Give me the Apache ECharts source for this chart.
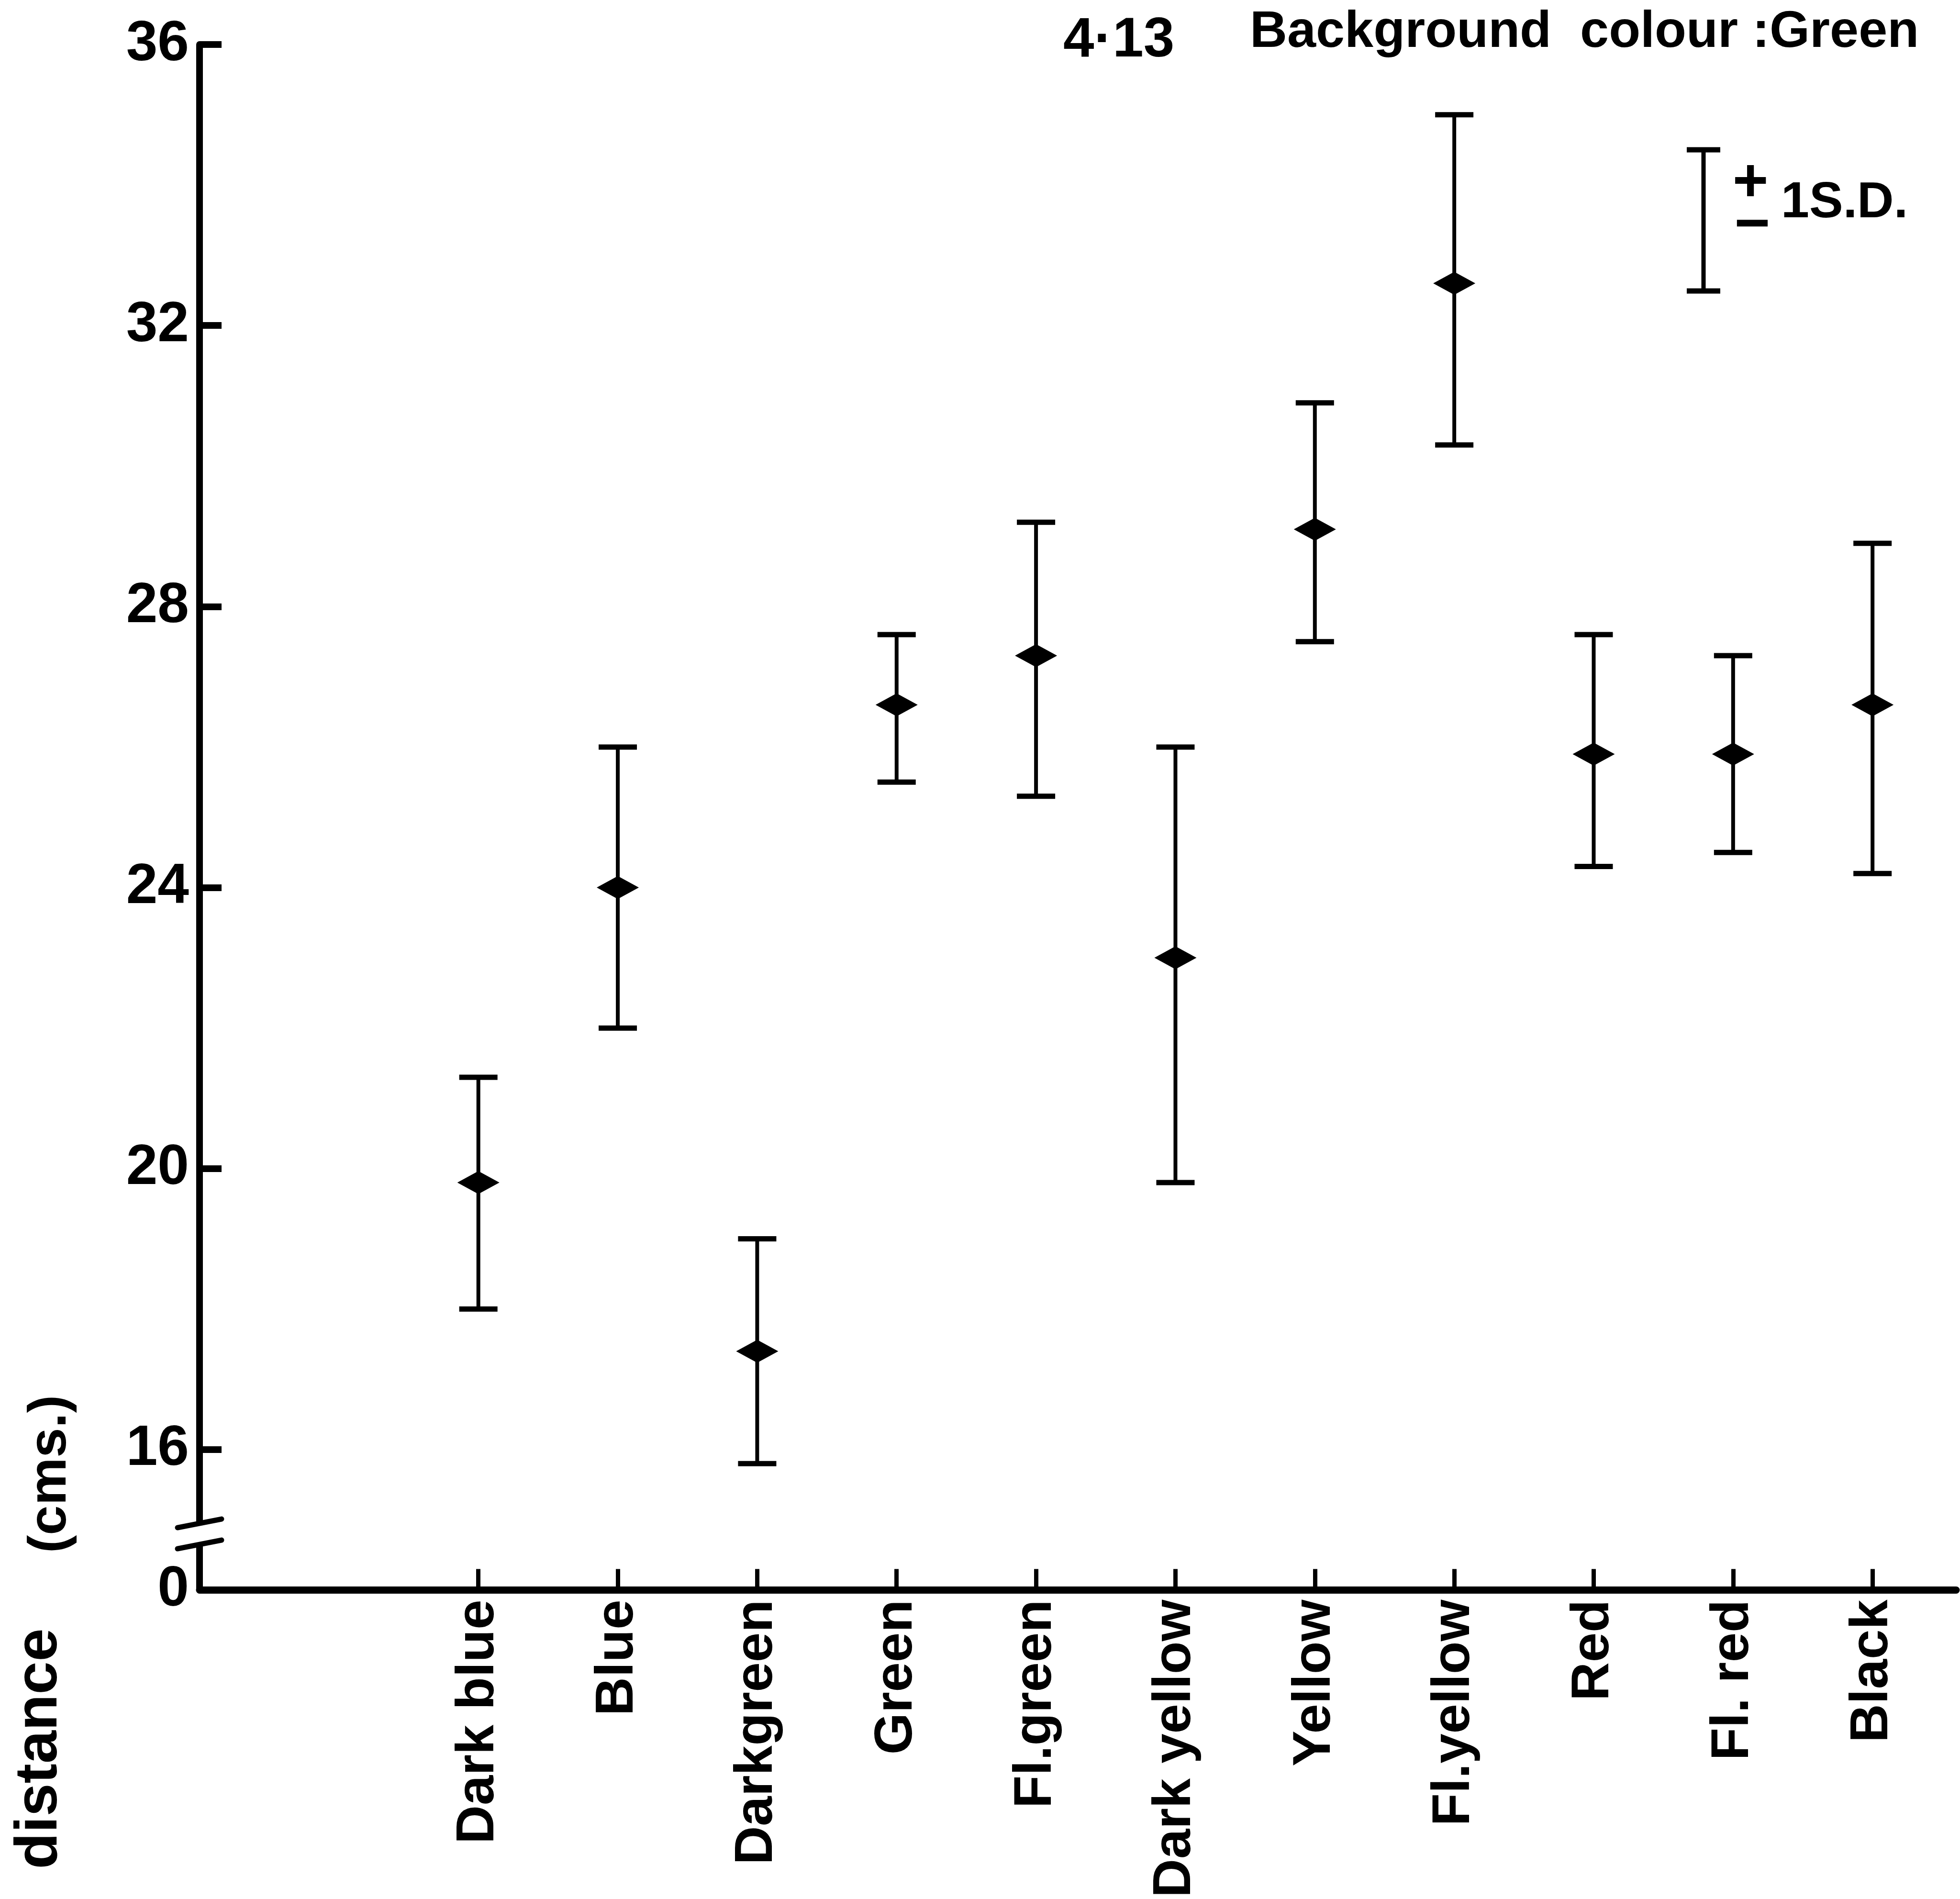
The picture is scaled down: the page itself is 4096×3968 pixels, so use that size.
<!DOCTYPE html>
<html><head><meta charset="utf-8">
<script src="https://cdn.jsdelivr.net/npm/echarts@6/dist/echarts.min.js"></script>
<style>html,body{margin:0;padding:0;background:#fff}#c{width:4096px;height:3968px}</style>
</head><body><div id="c"></div>
<script>
const categories = ['Dark blue','Blue','Darkgreen','Green','Fl.green','Dark yellow','Yellow','Fl.yellow','Red','Fl. red','Black'];
const means = [19.8, 24.0, 17.4, 26.6, 27.3, 23.0, 29.1, 32.6, 25.9, 25.9, 26.6];
const upper = [21.3, 26.0, 19.0, 27.6, 29.2, 26.0, 30.9, 35.0, 27.6, 27.3, 28.9];
const lower = [18.0, 22.0, 15.8, 25.5, 25.3, 19.8, 27.5, 30.3, 24.3, 24.5, 24.2];
const yTicks = [16, 20, 24, 28, 32, 36];
const yBase = 14;          // plotted position of the "0" label (broken axis)
const breakRange = [14.65, 14.95];

const SANS = '"Liberation Sans", Arial, Helvetica, sans-serif';
const NARROW = '"Liberation Sans Narrow", "Arial Narrow", "Liberation Sans", Arial, sans-serif';

const chart = echarts.init(document.getElementById('c'), null, {renderer: 'canvas'});

const option = {
  backgroundColor: '#ffffff',
  animation: false,
  grid: {left: 417, right: 8, top: 93, bottom: 636, containLabel: false},
  xAxis: {
    type: 'value', min: -2, max: 10.6,
    splitLine: {show: false},
    axisLine: {onZero: false, lineStyle: {color: '#000', width: 15}},
    axisTick: {show: true, inside: true, length: 44, customValues: categories.map((c, i) => i),
               lineStyle: {color: '#000', width: 9}},
    axisLabel: {
      customValues: categories.map((c, i) => i),
      formatter: v => categories[Math.round(v)] || '',
      rotate: 90, margin: 20, color: '#000',
      fontFamily: NARROW, fontWeight: 'bold', fontSize: 112
    }
  },
  yAxis: {
    type: 'value', min: yBase, max: 36,
    splitLine: {show: false},
    axisLine: {onZero: false, lineStyle: {color: '#000', width: 14}},
    axisTick: {show: true, inside: true, length: 46, customValues: yTicks,
               lineStyle: {color: '#000', width: 14}},
    axisLabel: {
      customValues: [yBase].concat(yTicks),
      formatter: v => (v === yBase ? '0' : String(v)),
      margin: 22, color: '#000',
      fontFamily: SANS, fontWeight: 'bold', fontSize: 118
    }
  },
  series: [
    {
      type: 'custom',
      data: categories.map((c, i) => [i, lower[i], upper[i]]),
      encode: {x: 0, y: [1, 2]},
      renderItem: (params, api) => {
        const x = api.value(0);
        const top = api.coord([x, api.value(2)]);
        const bot = api.coord([x, api.value(1)]);
        const hw = 40;
        const st = {stroke: '#000', lineWidth: 8};
        const cap = {stroke: '#000', lineWidth: 11};
        return {type: 'group', children: [
          {type: 'line', shape: {x1: top[0], y1: top[1], x2: bot[0], y2: bot[1]}, style: st},
          {type: 'line', shape: {x1: top[0] - hw, y1: top[1], x2: top[0] + hw, y2: top[1]}, style: cap},
          {type: 'line', shape: {x1: bot[0] - hw, y1: bot[1], x2: bot[0] + hw, y2: bot[1]}, style: cap}
        ]};
      },
      z: 2
    },
    {
      type: 'scatter',
      data: means.map((m, i) => [i, m]),
      symbol: 'diamond', symbolSize: [88, 48],
      itemStyle: {color: '#000', opacity: 1},
      z: 3
    }
  ]
};
chart.setOption(option);

// decorations: titles, legend key, axis names, axis-break marks
const a = chart.convertToPixel({gridIndex: 0}, [-2, breakRange[1]]);
const b = chart.convertToPixel({gridIndex: 0}, [-2, breakRange[0]]);
const txt = (text, x, y, size, extra) => Object.assign({
  type: 'text', x: x, y: y,
  style: Object.assign({text: text, fill: '#000', font: 'bold ' + size + 'px ' + SANS,
                        align: 'left', verticalAlign: 'middle'}, (extra && extra.style) || {})
}, extra && extra.rotation ? {rotation: extra.rotation} : {});

chart.setOption({
  graphic: [
    txt('4\u00B713', 2222, 86, 116),
    txt('Background  colour :Green', 2612, 68, 108),
    // legend key
    {type: 'line', shape: {x1: 3560, y1: 313, x2: 3560, y2: 608}, style: {stroke: '#000', lineWidth: 9}},
    {type: 'line', shape: {x1: 3525, y1: 313, x2: 3595, y2: 313}, style: {stroke: '#000', lineWidth: 11}},
    {type: 'line', shape: {x1: 3525, y1: 608, x2: 3595, y2: 608}, style: {stroke: '#000', lineWidth: 11}},
    txt('+', 3658, 385, 128, {style: {align: 'center'}}),
    txt('\u2212', 3662, 474, 128, {style: {align: 'center'}}),
    txt('1S.D.', 3722, 425, 106),
    // axis names
    txt('distance', 84, 3654, 124, {rotation: Math.PI / 2, style: {align: 'center'}}),
    txt('(cms.)', 106, 3080, 112, {rotation: Math.PI / 2, style: {align: 'center'}}),
    // axis break
    {type: 'rect', shape: {x: a[0] - 16, y: a[1], width: 32, height: b[1] - a[1]}, style: {fill: '#fff'}, z: 100},
    {type: 'line', shape: {x1: a[0] - 46, y1: a[1] + 9, x2: a[0] + 46, y2: a[1] - 9}, style: {stroke: '#000', lineWidth: 11, lineCap: 'round'}, z: 101},
    {type: 'line', shape: {x1: b[0] - 46, y1: b[1] + 9, x2: b[0] + 46, y2: b[1] - 9}, style: {stroke: '#000', lineWidth: 11, lineCap: 'round'}, z: 101}
  ]
});
</script>
</body></html>
